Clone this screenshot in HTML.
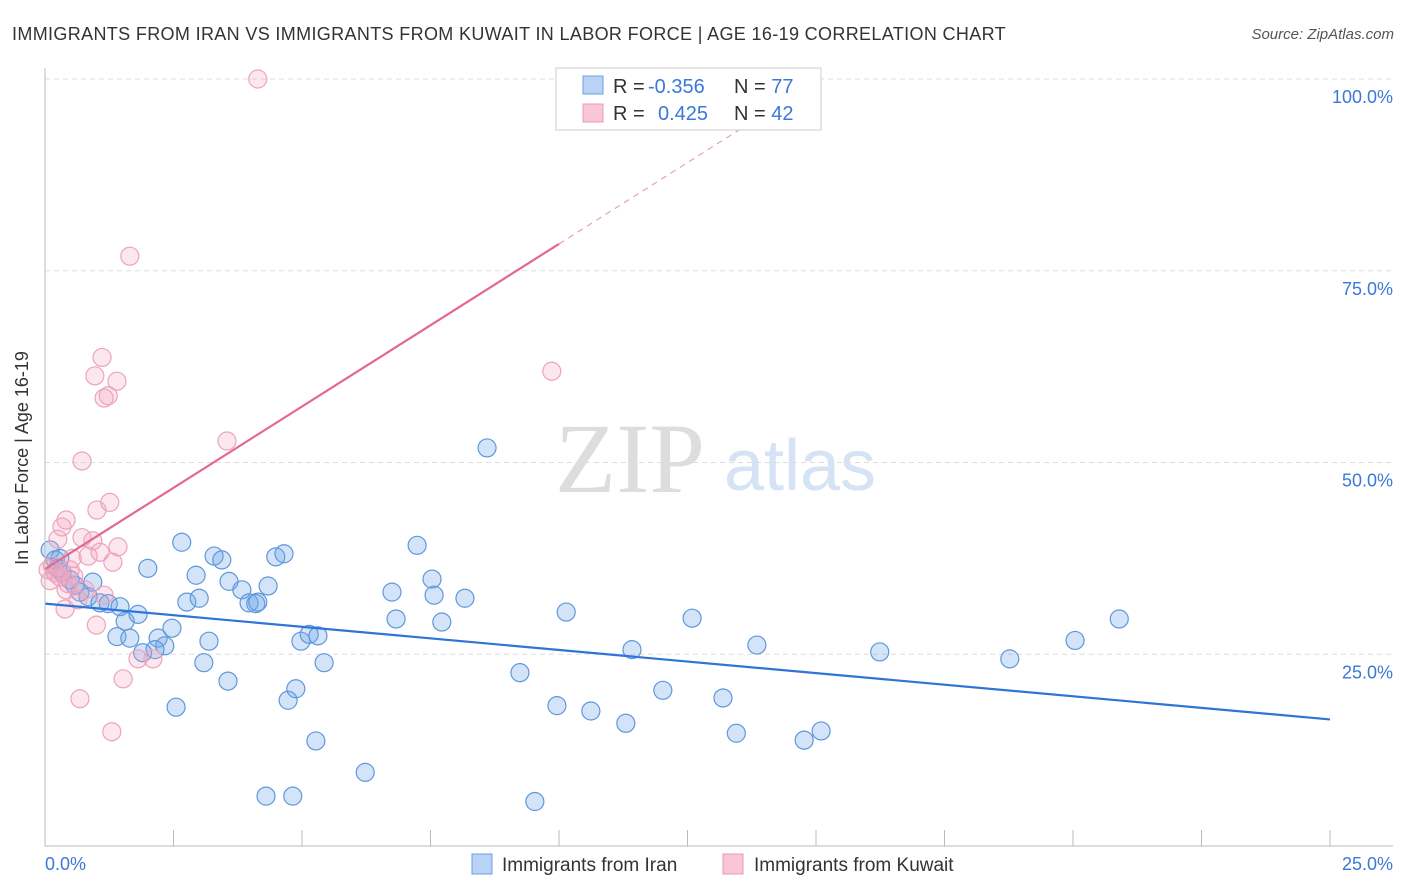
<!DOCTYPE html>
<html><head><meta charset="utf-8"><style>
body{margin:0;background:#fff;font-family:"Liberation Sans",sans-serif}
#c{position:absolute;left:0;top:0}
</style></head><body>
<svg id="c" width="1406" height="892" xmlns="http://www.w3.org/2000/svg">
<text x="12" y="40" font-size="18" letter-spacing="0.35" fill="#333">IMMIGRANTS FROM IRAN VS IMMIGRANTS FROM KUWAIT IN LABOR FORCE | AGE 16-19 CORRELATION CHART</text>
<text x="1394" y="39" font-size="15" fill="#555" text-anchor="end" font-style="italic">Source: ZipAtlas.com</text>
<text x="630" y="492" font-size="100" fill="#ddd" font-family="Liberation Serif,serif" text-anchor="middle">ZIP</text>
<text x="800" y="490" font-size="72" fill="#d5e3f5" text-anchor="middle">atlas</text>
<g id="grid"></g><g id="pts"></g><g id="lines"></g>
<line x1="45" y1="68" x2="45" y2="846" stroke="#bbb"/>
<line x1="45" y1="846" x2="1393" y2="846" stroke="#bbb"/>
<text x="28" y="458" font-size="18" fill="#333" text-anchor="middle" transform="rotate(-90 28 458)">In Labor Force | Age 16-19</text>
<text x="45" y="870" font-size="18" fill="#3b78d8">0.0%</text>
<text x="1393" y="870" font-size="18" fill="#3b78d8" text-anchor="end">25.0%</text>
<g>
<rect x="556" y="68" width="265" height="62" fill="#fff" stroke="#ccc"/>
<rect x="583" y="76" width="20" height="18" fill="#b8d3f5" stroke="#6a9fe0"/>
<rect x="583" y="104" width="20" height="18" fill="#f9c6d6" stroke="#ea9ab5"/>
<text x="613" y="93" font-size="20" fill="#333">R = <tspan x="648" fill="#3b78d8">-0.356</tspan><tspan x="734">N = </tspan><tspan fill="#3b78d8">77</tspan></text>
<text x="613" y="120" font-size="20" fill="#333">R = <tspan x="658" fill="#3b78d8">0.425</tspan><tspan x="734">N = </tspan><tspan fill="#3b78d8">42</tspan></text>
</g>
<g>
<rect x="472" y="854" width="20" height="20" fill="#b8d3f5" stroke="#6a9fe0"/>
<text x="502" y="871" font-size="19" fill="#333">Immigrants from Iran</text>
<rect x="723" y="854" width="20" height="20" fill="#f9c6d6" stroke="#ea9ab5"/>
<text x="754" y="871" font-size="19" fill="#333">Immigrants from Kuwait</text>
</g>
</svg>
<script>
const yTicks=[25,50,75,100];
const xTickCount=10;
const iranX=[0.1,0.2,0.25,0.33,0.49,0.58,0.68,0.84,0.93,1.07,1.23,1.46,1.56,1.4,1.65,1.81,2.0,2.2,2.33,2.14,1.9,2.47,2.55,2.66,2.76,2.94,3.0,3.09,3.19,3.29,3.44,3.58,3.56,3.83,3.97,4.1,4.14,4.3,4.34,4.49,4.65,4.73,4.82,4.88,4.98,5.14,5.31,5.27,5.43,6.23,6.75,6.83,7.24,7.53,7.57,7.72,8.17,8.6,9.24,9.53,9.96,10.14,10.62,11.3,11.42,12.02,12.59,13.19,13.45,13.85,14.77,15.1,16.24,18.77,20.04,20.9,0.29];
const iranY=[38.6,37.3,36.2,35.7,34.7,34.0,33.1,32.5,34.4,31.7,31.6,31.2,29.3,27.3,27.1,30.2,36.2,27.1,26.1,25.6,25.2,28.4,18.1,39.6,31.8,35.3,32.3,23.9,26.7,37.8,37.3,34.5,21.5,33.4,31.7,31.6,31.8,6.5,33.9,37.7,38.1,19.0,6.5,20.5,26.7,27.6,27.4,13.7,23.9,9.6,33.1,29.6,39.2,34.8,32.7,29.2,32.3,51.9,22.6,5.8,18.3,30.5,17.6,16.0,25.6,20.3,29.7,19.3,14.7,26.2,13.8,15.0,25.3,24.4,26.8,29.6,37.5];
const kuwaitX=[4.14,1.65,1.11,0.97,1.4,1.23,1.15,3.54,9.86,0.72,1.01,1.26,0.41,0.33,0.25,0.72,0.93,1.42,1.07,0.53,0.84,1.32,0.1,0.2,0.29,0.45,0.56,1.15,0.64,0.39,1.0,1.81,2.1,1.52,0.68,1.3,0.06,0.14,0.21,0.49,0.78,0.41];
const kuwaitY=[100,76.9,63.7,61.3,60.6,58.7,58.4,52.8,61.9,50.2,43.8,44.8,42.5,41.6,40.0,40.2,39.8,39.0,38.3,37.5,37.8,37.0,34.6,35.6,35.1,34.2,35.2,32.7,32.1,30.9,28.8,24.4,24.4,21.8,19.2,14.9,36.0,36.6,35.6,36.0,33.4,33.4];
const iranLine=[31.6,16.5];
const kuwaitLine=[36.1,78.5];
const X=v=>45+v/25*1285, Y=v=>846-v*7.67;
const NS='http://www.w3.org/2000/svg';
function mk(t,a,p){const e=document.createElementNS(NS,t);for(const k in a)e.setAttribute(k,a[k]);p.appendChild(e);return e;}
const g=document.getElementById('grid');
yTicks.forEach(t=>{
 const l=mk('line',{x1:45,x2:1393,y1:Y(t),y2:Y(t),stroke:'#ddd','stroke-dasharray':'5,4'},g);
 
 
 const tx=mk('text',{x:1393,y:Y(t)+24,'font-size':18,fill:'#3b78d8','text-anchor':'end'},g);
 tx.textContent=t.toFixed(1)+'%';
 
 
});
for(let i=1;i<=xTickCount;i++){
 const l=mk('line',{x1:X(i*2.5),x2:X(i*2.5),y1:830,y2:846,stroke:'#bbb'},g);
 
 
}
const p=document.getElementById('pts');
iranX.forEach((v,i)=>{
 const c=mk('circle',{cx:X(v),cy:Y(iranY[i]),r:9,fill:'rgba(110,165,232,0.3)',stroke:'#5f97dc','stroke-width':1.2},p);
 
 
});
kuwaitX.forEach((v,i)=>{
 const c=mk('circle',{cx:X(v),cy:Y(kuwaitY[i]),r:9,fill:'rgba(244,160,188,0.25)',stroke:'#eda3bb','stroke-width':1.2},p);
 
 
});
const L=document.getElementById('lines');
const bl=mk('line',{x1:X(0),y1:Y(iranLine[0]),x2:X(25),y2:Y(iranLine[1]),stroke:'#2f74d6','stroke-width':2.2},L);


const slope=(kuwaitLine[1]-kuwaitLine[0])/10;
const pl=mk('line',{x1:X(0),y1:Y(kuwaitLine[0]),x2:X(10),y2:Y(kuwaitLine[1]),stroke:'#e4678f','stroke-width':2.2},L);


const pd=mk('line',{x1:X(10),y1:Y(kuwaitLine[1]),x2:X(14.3),y2:Y(kuwaitLine[1]+slope*4.3),stroke:'#eaa0b8','stroke-width':1.2,'stroke-dasharray':'6,5'},L);


</script>
</body></html>
